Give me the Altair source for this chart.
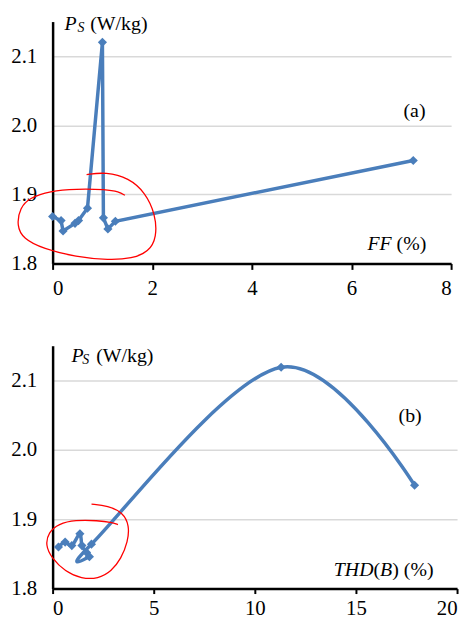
import altair as alt
import pandas as pd

# Panel (a): P_S vs FF
ff = [0.0, 0.17, 0.21, 0.45, 0.52, 0.70, 1.00, 1.02, 1.11, 1.26, 7.24]
ps_a = [1.868, 1.862, 1.847, 1.858, 1.862, 1.880, 2.120, 1.866, 1.850, 1.861, 1.949]

# Panel (b): P_S vs THD(B)
thd = [0.29, 0.62, 0.95, 1.35, 1.45, 1.68, 1.82, 1.92, 11.3, 17.9]
ps_b = [1.860, 1.867, 1.862, 1.879, 1.862, 1.852, 1.846, 1.864, 2.119, 1.949]

# Red hand-drawn loops (data coordinates)
loop_a_x = [0.682, 1.068, 1.531, 1.863, 2.062, 2.093, 1.928, 1.596, 1.133, 0.471, -0.193,
            -0.590, -0.722, -0.656, -0.457, -0.060, 0.471, 1.068, 1.332, 1.451]
loop_a_y = [1.9286, 1.9323, 1.9237, 1.9023, 1.8714, 1.838, 1.8166, 1.8071, 1.8047, 1.8094,
            1.8214, 1.8357, 1.8547, 1.8809, 1.8951, 1.9047, 1.908, 1.9071, 1.9037, 1.8986]
loop_b_x = [1.924, 2.741, 3.475, 3.798, 3.720, 3.392, 2.903, 2.252, 1.434, 0.617, -0.034,
            -0.362, -0.196, 0.294, 1.106, 2.252, 2.903, 3.231]
loop_b_y = [1.9216, 1.9193, 1.9098, 1.8909, 1.8672, 1.8435, 1.8246, 1.8142, 1.8142, 1.8246,
            1.8435, 1.8625, 1.8814, 1.8932, 1.8989, 1.898, 1.8956, 1.8923]

y_ticks = [1.8, 1.9, 2.0, 2.1]
xa_ticks = [0, 2, 4, 6, 8]
xb_ticks = [0, 5, 10, 15, 20]

BLUE = "#4A7EBB"
FONT = "Liberation Serif"

df_a = pd.DataFrame({"x": ff, "y": ps_a, "i": range(len(ff))})
df_b = pd.DataFrame({"x": thd, "y": ps_b, "i": range(len(thd))})
la = pd.DataFrame({"x": loop_a_x, "y": loop_a_y, "i": range(len(loop_a_x))})
lb = pd.DataFrame({"x": loop_b_x, "y": loop_b_y, "i": range(len(loop_b_x))})


def yscale():
    return alt.Scale(domain=[1.8, 2.15], nice=False, zero=False)


def yaxis():
    return alt.Axis(values=y_ticks, format=".1f", title=None, grid=True, gridColor="#d9d9d9",
                    gridWidth=1.5, ticks=False, domainColor="black", domainWidth=2.5,
                    labelFont=FONT, labelFontSize=21, labelColor="black", labelPadding=16)


def xaxis(vals, tick, pad):
    return alt.Axis(values=vals, title=None, grid=False, ticks=True, tickColor="black",
                    tickWidth=2, tickSize=tick, domainColor="black", domainWidth=2.5,
                    labelFont=FONT, labelFontSize=21, labelColor="black", labelPadding=pad)


def text(t, x, y, size=20, style="normal", align="left"):
    return alt.Chart(pd.DataFrame({"t": [t]})).mark_text(
        font=FONT, fontSize=size, fontStyle=style, align=align, baseline="alphabetic",
        color="black"
    ).encode(text="t:N", x=alt.value(x), y=alt.value(y))


def panel(df, loop, xdom, xvals, interp, w, h, texts, tick, pad):
    xs = alt.Scale(domain=xdom, nice=False, zero=False)
    base = alt.Chart(df)
    line = base.mark_line(color=BLUE, strokeWidth=3.5, interpolate=interp).encode(
        x=alt.X("x:Q", scale=xs, axis=xaxis(xvals, tick, pad)),
        y=alt.Y("y:Q", scale=yscale(), axis=yaxis()),
        order="i:Q",
    )
    pts = base.mark_point(shape="diamond", filled=True, size=85, color=BLUE, opacity=1).encode(
        x=alt.X("x:Q", scale=xs), y=alt.Y("y:Q", scale=yscale()))
    red = alt.Chart(loop).mark_line(color="red", strokeWidth=1.3, interpolate="basis").encode(
        x=alt.X("x:Q", scale=xs), y=alt.Y("y:Q", scale=yscale()), order="i:Q")
    return alt.layer(line, pts, red, *texts).properties(width=w, height=h)


texts_a = [
    text("P", 12, 9, 20, "italic"),
    text("S", 25, 11, 14, "italic"),
    text("(W/kg)", 38, 9, 20),
    text("(a)", 354, 96, 20),
    text("FF", 342, 230, 20, "italic", "right"),
    text(" (%)", 377, 230, 20, "normal", "right"),
]
texts_b = [
    text("P", 19, 16, 20, "italic"),
    text("S", 30, 18, 14, "italic"),
    text("(W/kg)", 44, 16, 20),
    text("(b)", 349, 77, 20),
    text("THD", 323.7, 232, 20, "italic", "right"),
    text("(", 330.4, 232, 20, "normal", "right"),
    text("B", 342.6, 232, 20, "italic", "right"),
    text(")", 349.3, 232, 20, "normal", "right"),
    text(" (%)", 384.3, 232, 20, "normal", "right"),
]

top = panel(df_a, la, [0, 8], xa_ticks, "linear", 402, 244, texts_a, 6, 8)
bottom = panel(df_b, lb, [0, 20], xb_ticks, "cardinal", 408, 245, texts_b, 5, 4)

chart = alt.vconcat(top, bottom, spacing=48).properties(
    padding={"left": 2, "top": 4, "right": 5, "bottom": 0}
).configure_view(stroke=None)

chart.save("out.html", embed_options={"renderer": "svg", "actions": False})
